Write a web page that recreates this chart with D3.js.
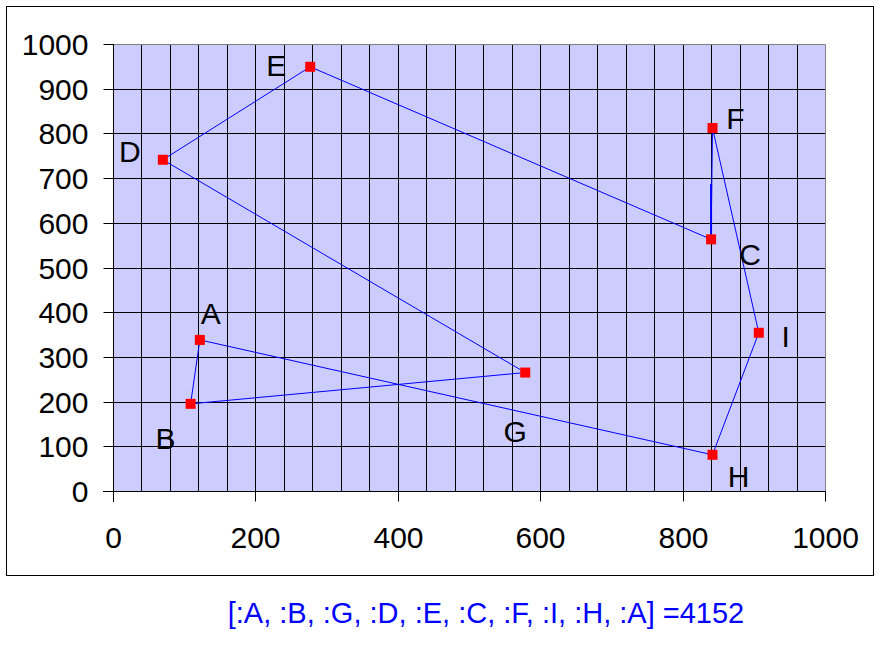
<!DOCTYPE html>
<html>
<head>
<meta charset="utf-8">
<script src="https://cdn.jsdelivr.net/npm/d3@7"></script>
<style>
  html, body { margin: 0; padding: 0; background: #fff; }
  svg { display: block; font-family: Arial, "Liberation Sans", sans-serif; }
</style>
</head>
<body>
<svg id="chart" width="885" height="650"></svg>
<script>
// ---- data ----
const names = ["A", "B", "C", "D", "E", "F", "G", "H", "I"];
const xs    = [122, 109, 840,  70, 277, 842, 579, 842, 907];
const ys    = [338, 195, 563, 741, 949, 812, 265,  81, 354];
const route = ["A", "B", "G", "D", "E", "C", "F", "I", "H", "A"];
const routeLength = 4152;
const xTicks = [0, 200, 400, 600, 800, 1000];
const yTicks = [0, 100, 200, 300, 400, 500, 600, 700, 800, 900, 1000];
const xGridStep = 40;
// stray vertical stroke above C
const strokeX = [840, 840];
const strokeY = [563, 687];

// ---- layout (pixel offsets of labels from their points) ----
const labelDx = { A: 11, B: -25, C: 39, D: -33, E: -34, F: 23, G: -10, H: 26, I: 27 };
const labelDy = { A: -27, B: 34, C: 15, D: -9, E: -2, F: -10, G: 59, H: 21, I: 3 };

(function () {
const svg = d3.select("#chart");
const pL = 113, pR = 825, pT = 44, pB = 491;
const x = d3.scaleLinear().domain([0, 1000]).range([pL, pR]);
const y = d3.scaleLinear().domain([0, 1000]).range([pB, pT]);

// outer border
svg.append("rect").attr("x", 6.5).attr("y", 6.5).attr("width", 867).attr("height", 569)
  .attr("fill", "#fff").attr("stroke", "#000").attr("stroke-width", 1);

// plot area
svg.append("rect").attr("x", pL).attr("y", pT).attr("width", pR - pL).attr("height", pB - pT)
  .attr("fill", "#CCCCFF");

// vertical gridlines every 40
const vGrid = d3.range(xGridStep, 1000, xGridStep);
svg.append("g").selectAll("line").data(vGrid).join("line")
  .attr("x1", d => Math.round(x(d)) + 0.5).attr("x2", d => Math.round(x(d)) + 0.5)
  .attr("y1", pT).attr("y2", pB)
  .attr("stroke", "#000").attr("stroke-width", 1);
// horizontal gridlines
svg.append("g").selectAll("line").data(yTicks.filter(d => d > 0 && d < 1000)).join("line")
  .attr("x1", pL).attr("x2", pR)
  .attr("y1", d => Math.round(y(d)) + 0.5).attr("y2", d => Math.round(y(d)) + 0.5)
  .attr("stroke", "#000").attr("stroke-width", 1);
// top and right plot border (grey)
svg.append("path")
  .attr("d", `M${pL},${pT + 0.5}H${pR + 0.5}V${pB}`)
  .attr("fill", "none").attr("stroke", "#808080").attr("stroke-width", 1);

// axes
const yAxis = d3.axisLeft(y).tickValues(yTicks).tickSize(10).tickPadding(15).tickFormat(d3.format("d"));
const gy = svg.append("g").attr("transform", `translate(${pL + 0.5},0)`).call(yAxis);
const xAxis = d3.axisBottom(x).tickValues(xTicks).tickSize(10).tickPadding(25).tickFormat(d3.format("d"));
const gx = svg.append("g").attr("transform", `translate(0,${pB + 0.5})`).call(xAxis);
[gx, gy].forEach(g => {
  g.select(".domain").attr("stroke", "#000").attr("stroke-width", 1);
  g.selectAll(".tick line").attr("stroke", "#000");
  g.selectAll(".tick text").attr("font-size", 30).attr("fill", "#000")
    .attr("font-family", "Arial, 'Liberation Sans', sans-serif");
});
gy.selectAll(".tick text").attr("dy", "0.36em");
gx.selectAll(".tick text").attr("dy", "0.71em");
gy.selectAll(".tick").attr("transform", d => `translate(0,${Math.round(y(d)) + 0.5})`);
gx.selectAll(".tick").attr("transform", d => `translate(${Math.round(x(d)) + 0.5},0)`);
gy.select(".domain").attr("d", `M0,${pT}V${pB + 11}`);
gx.select(".domain").attr("d", `M${pL - 10},0H${pR + 1}`);

// points
const pts = names.map((n, i) => ({ name: n, x: xs[i], y: ys[i] }));
const byName = Object.fromEntries(pts.map(p => [p.name, p]));

// route line
const line = d3.line().x(d => x(d.x)).y(d => y(d.y));
svg.append("path").datum(route.map(n => byName[n]))
  .attr("d", line).attr("fill", "none").attr("stroke", "#0000FF").attr("stroke-width", 1);

// stray stroke
svg.append("path").datum(strokeX.map((v, i) => ({ x: v, y: strokeY[i] })))
  .attr("d", line).attr("fill", "none").attr("stroke", "#0000FF").attr("stroke-width", 2);

// markers
svg.append("g").selectAll("rect").data(pts).join("rect")
  .attr("x", d => x(d.x) - 5).attr("y", d => y(d.y) - 5)
  .attr("width", 10).attr("height", 10).attr("fill", "#FF0000");

// labels
svg.append("g").selectAll("text").data(pts).join("text")
  .attr("x", d => x(d.x) + labelDx[d.name])
  .attr("y", d => y(d.y) + labelDy[d.name])
  .attr("dy", "0.36em")
  .attr("text-anchor", "middle")
  .attr("font-size", 30).attr("fill", "#000")
  .text(d => d.name);

// caption
svg.append("text")
  .attr("x", 486).attr("y", 623)
  .attr("text-anchor", "middle")
  .attr("font-size", 29).attr("fill", "#0000FF")
  .text("[" + route.map(n => ":" + n).join(", ") + "] =" + routeLength);
})();
</script>
</body>
</html>
